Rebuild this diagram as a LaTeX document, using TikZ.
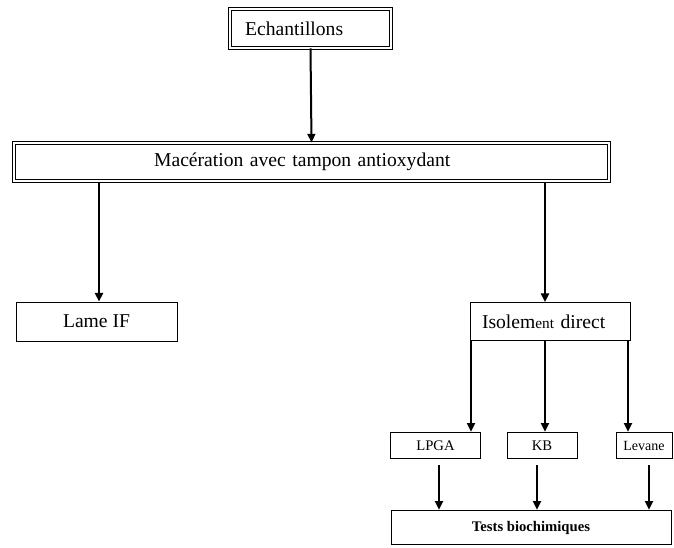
\documentclass[tikz,border=0pt]{standalone}
\usepackage{fontspec}
\setmainfont{Liberation Serif}
\usetikzlibrary{arrows.meta}

\tikzset{
    box/.style={draw, line width=0.6pt, inner sep=2pt, font=\fontsize{14.7}{16}\selectfont},
    dbox/.style={box, double, double distance=1.3pt, line width=0.8pt},
    smallbox/.style={box, minimum height=20pt, inner ysep=0pt, font=\fontsize{11}{12}\selectfont},
    arr/.style={-{Triangle[length=6.5pt, width=6pt]}, line width=1.5pt}
}

\begin{document}
\begin{tikzpicture}[x=0.75pt, y=-0.75pt]
    \useasboundingbox (0,0) rectangle (674,547);

    % top of the chart
    \node[dbox, minimum width=120.7pt, minimum height=29pt, text width=98pt, align=left, inner xsep=11pt] (echantillons) at (310.5,28.5) {Echantillons};
    \node[dbox, minimum width=446pt, minimum height=28.5pt, text width=236pt, align=left, inner xsep=103pt] (maceration) at (311.5,162) {Macération avec tampon antioxydant};

    % second level
    \node[box, minimum width=120.75pt, minimum height=29.25pt] (lame) at (96.5,321.5) {Lame IF};
    \node[box, minimum width=120pt, minimum height=28.5pt, text width=102pt, align=left, inner xsep=9pt] (isolement) at (550,321.5) {Isolem{\fontsize{11.5}{12}\selectfont ent} direct};

    % media
    \node[smallbox, minimum width=68pt] (lpga) at (435.5,445.5) {LPGA};
    \node[smallbox, minimum width=52.5pt] (kb) at (542,445.5) {KB};
    \node[smallbox, minimum width=42pt, inner xsep=1pt, font=\fontsize{10.5}{12}\selectfont] (levane) at (644,445.5) {Levane};
    \node[box, minimum width=210pt, minimum height=26pt, font=\bfseries\fontsize{11}{12}\selectfont] (tests) at (531,527.5) {Tests biochimiques};

    % arrows
    \draw[arr] (echantillons.south) -- (maceration.north);
    \draw[arr] (maceration.south -| 99,0) -- (lame.north -| 99,0);
    \draw[arr] (maceration.south -| 545,0) -- (isolement.north -| 545,0);
    \draw[arr] (isolement.south -| 471,0) -- (lpga.north -| 471,0);
    \draw[arr] (isolement.south -| 545,0) -- (kb.north -| 545,0);
    \draw[arr] (isolement.south -| 628,0) -- (levane.north -| 628,0);
    \draw[arr] ([yshift=-4.5pt]lpga.south -| 439,0) -- (tests.north -| 439,0);
    \draw[arr] ([yshift=-4.5pt]kb.south -| 537,0) -- (tests.north -| 537,0);
    \draw[arr] ([yshift=-4.5pt]levane.south -| 649,0) -- (tests.north -| 649,0);
\end{tikzpicture}
\end{document}
